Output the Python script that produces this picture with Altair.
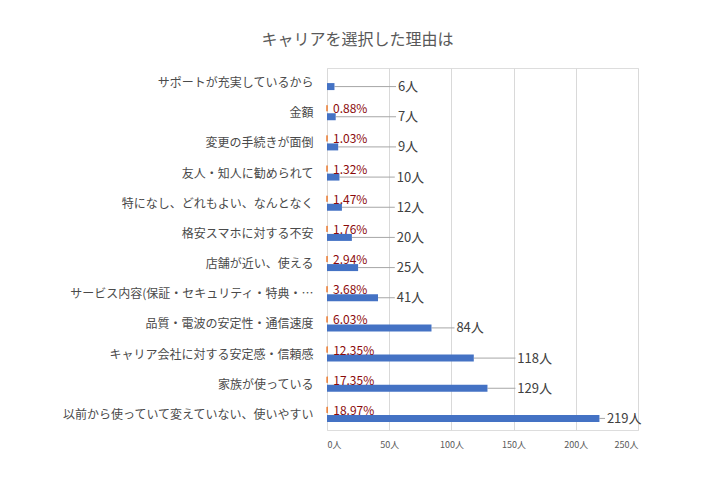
import altair as alt
import pandas as pd

categories = [
    "サポートが充実しているから",
    "金額",
    "変更の手続きが面倒",
    "友人・知人に勧められて",
    "特になし、どれもよい、なんとなく",
    "格安スマホに対する不安",
    "店舗が近い、使える",
    "サービス内容(保証・セキュリティ・特典・…",
    "品質・電波の安定性・通信速度",
    "キャリア会社に対する安定感・信頼感",
    "家族が使っている",
    "以前から使っていて変えていない、使いやすい",
]
counts = [6, 7, 9, 10, 12, 20, 25, 41, 84, 118, 129, 219]
percents = [None, 0.88, 1.03, 1.32, 1.47, 1.76, 2.94, 3.68, 6.03, 12.35, 17.35, 18.97]
label_pos = [57, 57, 57, 56, 56, 56, 56, 56, 104, 153, 153, 225]
x_ticks = [0, 50, 100, 150, 200, 250]

df = pd.DataFrame({
    "cat": categories,
    "count": counts,
    "pct": percents,
    "lab": label_pos,
})

FONT = "Noto Sans CJK JP"

y_enc = alt.Y(
    "cat:N",
    sort=categories,
    title=None,
    scale=alt.Scale(paddingInner=0, paddingOuter=0),
    axis=alt.Axis(
        domain=False, ticks=False, labelFont=FONT, labelFontSize=12,
        labelColor="#4a4a4a", labelPadding=14, labelLimit=400,
    ),
)
x_scale = alt.Scale(domain=[0, 250], nice=False)
x_axis = alt.Axis(
    values=x_ticks, labelExpr="datum.value + '人'", domain=False, ticks=False,
    grid=True, gridColor="#d9d9d9", labelFont=FONT, labelFontSize=9,
    labelColor="#595959", labelPadding=10, title=None,
)

base = alt.Chart(df)

blue = base.mark_bar(color="#4472C4", size=7, yOffset=3.5).encode(
    y=y_enc,
    x=alt.X("count:Q", scale=x_scale, axis=x_axis),
)

pct_df = base.transform_filter("isValid(datum.pct)").transform_calculate(
    frac="datum.pct / 100",
    ptxt="format(datum.pct, '.2f') + '%'",
)

orange = pct_df.mark_bar(
    color="#ED7D31", stroke="#ED7D31", strokeWidth=1, size=6, yOffset=-5
).encode(
    y=y_enc,
    x=alt.X("frac:Q", scale=x_scale),
)

pct_text = pct_df.mark_text(
    align="left", baseline="middle", dx=6, yOffset=-4, font=FONT,
    fontSize=12, color="#8B0A0A",
).encode(
    y=y_enc,
    x=alt.X("frac:Q", scale=x_scale),
    text="ptxt:N",
)

leader = base.transform_calculate(lend="datum.lab - 1.5").mark_rule(
    color="#a6a6a6", strokeWidth=1, yOffset=3.5
).encode(
    y=y_enc,
    x=alt.X("count:Q", scale=x_scale),
    x2="lend:Q",
)

count_text = base.transform_calculate(ctxt="datum.count + '人'").mark_text(
    align="left", baseline="middle", yOffset=4, font=FONT, fontSize=13,
    color="#404040",
).encode(
    y=y_enc,
    x=alt.X("lab:Q", scale=x_scale),
    text="ctxt:N",
)

chart = alt.layer(leader, blue, orange, pct_text, count_text).properties(
    width=311,
    height=362,
    padding={"left": 319, "top": 60, "right": 60, "bottom": 40},
    autosize=alt.AutoSizeParams(type="none"),
    title=alt.TitleParams(
        "キャリアを選択した理由は", font=FONT, fontSize=16, fontWeight="normal",
        color="#595959", anchor="middle", dx=-125, offset=20,
    ),
).configure_view(stroke=None).configure(background="white")

chart.save("out.html", embed_options={"renderer": "svg", "actions": False})
